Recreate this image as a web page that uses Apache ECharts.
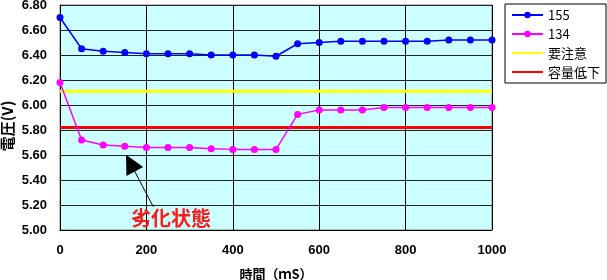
<!DOCTYPE html>
<html>
<head>
<meta charset="utf-8">
<script src="https://cdn.jsdelivr.net/npm/echarts@6/dist/echarts.min.js"></script>
<style>
html,body{margin:0;padding:0;background:#fff;}
#chart{width:607px;height:280px;}
</style>
</head>
<body>
<div id="chart"></div>
<script>
const timeMs = [0,50,100,150,200,250,300,350,400,450,500,550,600,650,700,750,800,850,900,950,1000];
const v155 = [6.70,6.45,6.43,6.42,6.41,6.41,6.41,6.40,6.40,6.40,6.39,6.49,6.50,6.51,6.51,6.51,6.51,6.51,6.52,6.52,6.52];
const v134 = [6.18,5.72,5.68,5.67,5.66,5.66,5.66,5.65,5.645,5.645,5.645,5.925,5.96,5.96,5.96,5.98,5.98,5.98,5.98,5.98,5.98];
const cautionLevel = 6.11;   // 要注意
const lowCapLevel = 5.82;    // 容量低下
const xRange = [0, 1000];
const seriesNames = ['155','134','要注意','容量低下'];
const annotationText = '劣化状態';
const arrowTail = [216, 5.186];
const arrowTip = [163, 5.535];

const labelFont = {fontFamily:'Liberation Sans, Arial, sans-serif', fontWeight:'bold', fontSize:13, color:'#000'};

const chart = echarts.init(document.getElementById('chart'), null, {renderer:'canvas'});
chart.setOption({
  animation:false,
  backgroundColor:'#ffffff',
  grid:{left:60, right:115, top:5, bottom:50, containLabel:false, outerBoundsMode:'none',
        show:true, backgroundColor:'#CCFFFF', borderColor:'#808080', borderWidth:1},
  legend:{
    orient:'vertical', left:505, top:4,
    data:[
      {name:seriesNames[0]},
      {name:seriesNames[1]},
      {name:seriesNames[2], itemStyle:{opacity:0}},
      {name:seriesNames[3], itemStyle:{opacity:0}}
    ],
    padding:[4,6,4,6],
    itemWidth:31, itemHeight:8, itemGap:5,
    backgroundColor:'#fff', borderColor:'#000', borderWidth:1, borderRadius:0,
    textStyle:{fontFamily:'Noto Sans CJK JP, sans-serif', fontSize:13, color:'#000', lineHeight:14, padding:[0,0,0,0]}
  },
  xAxis:{
    type:'value', min:xRange[0], max:xRange[1], interval:200,
    axisLine:{show:true, lineStyle:{color:'#000', width:1}},
    axisTick:{show:false},
    axisLabel:Object.assign({margin:14, formatter:v=>String(v)}, labelFont),
    splitLine:{show:true, lineStyle:{color:'#000', width:1}},
    name:'時間（ｍS）', nameLocation:'middle', nameGap:38,
    nameTextStyle:{fontFamily:'Noto Sans CJK JP, sans-serif', fontWeight:'bold', fontSize:13, color:'#000'}
  },
  yAxis:{
    type:'value', min:5.0, max:6.8, interval:0.2,
    axisLine:{show:true, lineStyle:{color:'#000', width:1}},
    axisTick:{show:false},
    axisLabel:Object.assign({margin:13, formatter:v=>v.toFixed(2)}, labelFont),
    splitLine:{show:true, lineStyle:{color:'#222', width:1}}
  },
  graphic:[
    {type:'text', x:7, y:126, rotation:Math.PI/2, silent:true,
     style:{text:'電圧(V)', fontFamily:'Noto Sans CJK JP, sans-serif', fontWeight:'bold', fontSize:15, fill:'#000', align:'center', verticalAlign:'middle'}},
    {type:'text', x:171, y:218, silent:true, z:100,
     style:{text:annotationText, fontFamily:'Noto Sans CJK JP, sans-serif', fontWeight:'bold', fontSize:20, fill:'#FF1A1A', align:'center', verticalAlign:'middle'}}
  ],
  series:[
    {name:'要注意', type:'line', symbol:'none', silent:true, z:3,
     data:xRange.map(x=>[x,cautionLevel]), lineStyle:{color:'#FFFF00', width:3}, itemStyle:{color:'#FFFF00'}},
    {name:'容量低下', type:'line', symbol:'none', silent:true, z:3,
     data:xRange.map(x=>[x,lowCapLevel]), lineStyle:{color:'#FF0000', width:3}, itemStyle:{color:'#FF0000'}},
    {name:'155', type:'line', symbol:'circle', symbolSize:7, z:5,
     data:timeMs.map((t,i)=>[t,v155[i]]), lineStyle:{color:'#0000FF', width:1.5}, itemStyle:{color:'#0000FF'}},
    {name:'134', type:'line', symbol:'circle', symbolSize:7, z:5,
     data:timeMs.map((t,i)=>[t,v134[i]]), lineStyle:{color:'#FF00FF', width:1.5}, itemStyle:{color:'#FF00FF'},
     markLine:{silent:true, symbol:['none','triangle'], symbolSize:19,
       label:{show:false},
       lineStyle:{color:'#000', width:1, type:'solid'},
       data:[[{coord:arrowTail},{coord:arrowTip}]]}}
  ]
});
</script>
</body>
</html>
